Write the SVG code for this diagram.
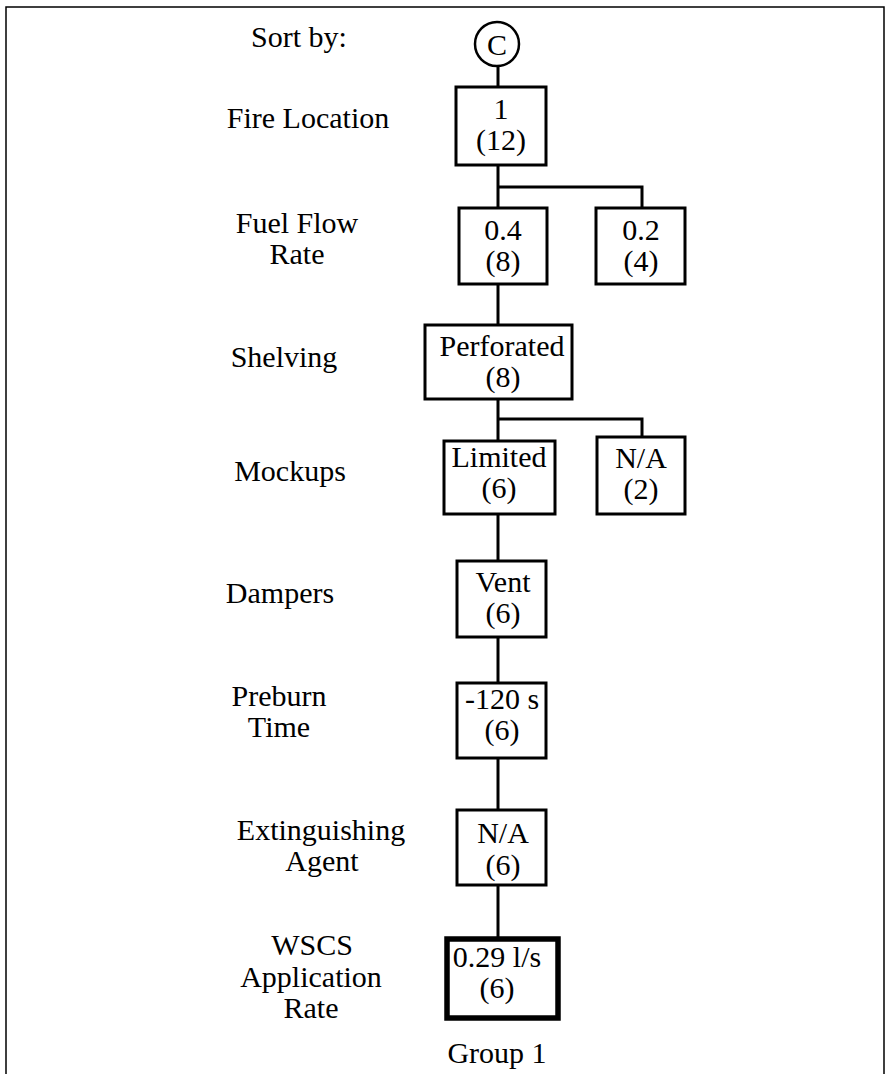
<svg xmlns="http://www.w3.org/2000/svg" width="888" height="1074" viewBox="0 0 888 1074">
<style>
text{font-family:"Liberation Serif","Times New Roman",serif;font-size:30px;fill:#000;text-anchor:middle}
.box{fill:#fff;stroke:#000;stroke-width:3}
.thick{fill:#fff;stroke:#000;stroke-width:5.5}
.con{fill:none;stroke:#000;stroke-width:3}
.frame{fill:none;stroke:#000;stroke-width:1.5}
</style>
<rect width="888" height="1074" fill="#fff"/>
<path class="frame" d="M6,1074 V7 H884 V1074"/>
<g id="labels">
<text x="299" y="47">Sort by:</text>
<text x="308" y="128">Fire Location</text>
<text x="297" y="233">Fuel Flow</text>
<text x="297" y="264">Rate</text>
<text x="284" y="367">Shelving</text>
<text x="290" y="481">Mockups</text>
<text x="280" y="603">Dampers</text>
<text x="279" y="706">Preburn</text>
<text x="279" y="737">Time</text>
<text x="321" y="840">Extinguishing</text>
<text x="322" y="871">Agent</text>
<text x="312" y="955">WSCS</text>
<text x="311" y="987">Application</text>
<text x="311" y="1018">Rate</text>
</g>
<g id="connectors">
<path class="con" d="M498,66 V87"/>
<path class="con" d="M498,165 V208 M498,187 H642 V208"/>
<path class="con" d="M498,284 V325"/>
<path class="con" d="M498,399 V441 M498,419 H642 V437"/>
<path class="con" d="M498,514 V561"/>
<path class="con" d="M498,637 V683"/>
<path class="con" d="M498,758 V810"/>
<path class="con" d="M498,885 V939"/>
</g>
<g id="nodeC">
<circle cx="497" cy="44" r="22" fill="#fff" stroke="#000" stroke-width="2.5"/>
<text x="497" y="55">C</text>
</g>
<g id="node1">
<rect class="box" x="456" y="87" width="90" height="78"/>
<text x="501" y="119">1</text>
<text x="501" y="150">(12)</text>
</g>
<g id="node04">
<rect class="box" x="459" y="208" width="88" height="76"/>
<text x="503" y="240">0.4</text>
<text x="503" y="271">(8)</text>
</g>
<g id="node02">
<rect class="box" x="596" y="208" width="89" height="76"/>
<text x="641" y="240">0.2</text>
<text x="641" y="271">(4)</text>
</g>
<g id="nodePerf">
<rect class="box" x="425" y="325" width="147" height="74"/>
<text x="502" y="356">Perforated</text>
<text x="503" y="387">(8)</text>
</g>
<g id="nodeLimited">
<rect class="box" x="444" y="441" width="111" height="73"/>
<text x="499" y="467">Limited</text>
<text x="499" y="498">(6)</text>
</g>
<g id="nodeNA2">
<rect class="box" x="597" y="437" width="88" height="77"/>
<text x="641" y="468">N/A</text>
<text x="641" y="499">(2)</text>
</g>
<g id="nodeVent">
<rect class="box" x="457" y="561" width="89" height="76"/>
<text x="503" y="592">Vent</text>
<text x="503" y="623">(6)</text>
</g>
<g id="node120">
<rect class="box" x="457" y="683" width="89" height="75"/>
<text x="502" y="709">-120 s</text>
<text x="502" y="740">(6)</text>
</g>
<g id="nodeNA6">
<rect class="box" x="457" y="810" width="89" height="75"/>
<text x="503" y="843">N/A</text>
<text x="503" y="875">(6)</text>
</g>
<g id="node029">
<rect class="thick" x="447" y="939" width="111" height="79"/>
<text x="497" y="967">0.29 l/s</text>
<text x="497" y="998">(6)</text>
</g>
<g id="group1">
<text x="497" y="1063">Group 1</text>
</g>
</svg>
